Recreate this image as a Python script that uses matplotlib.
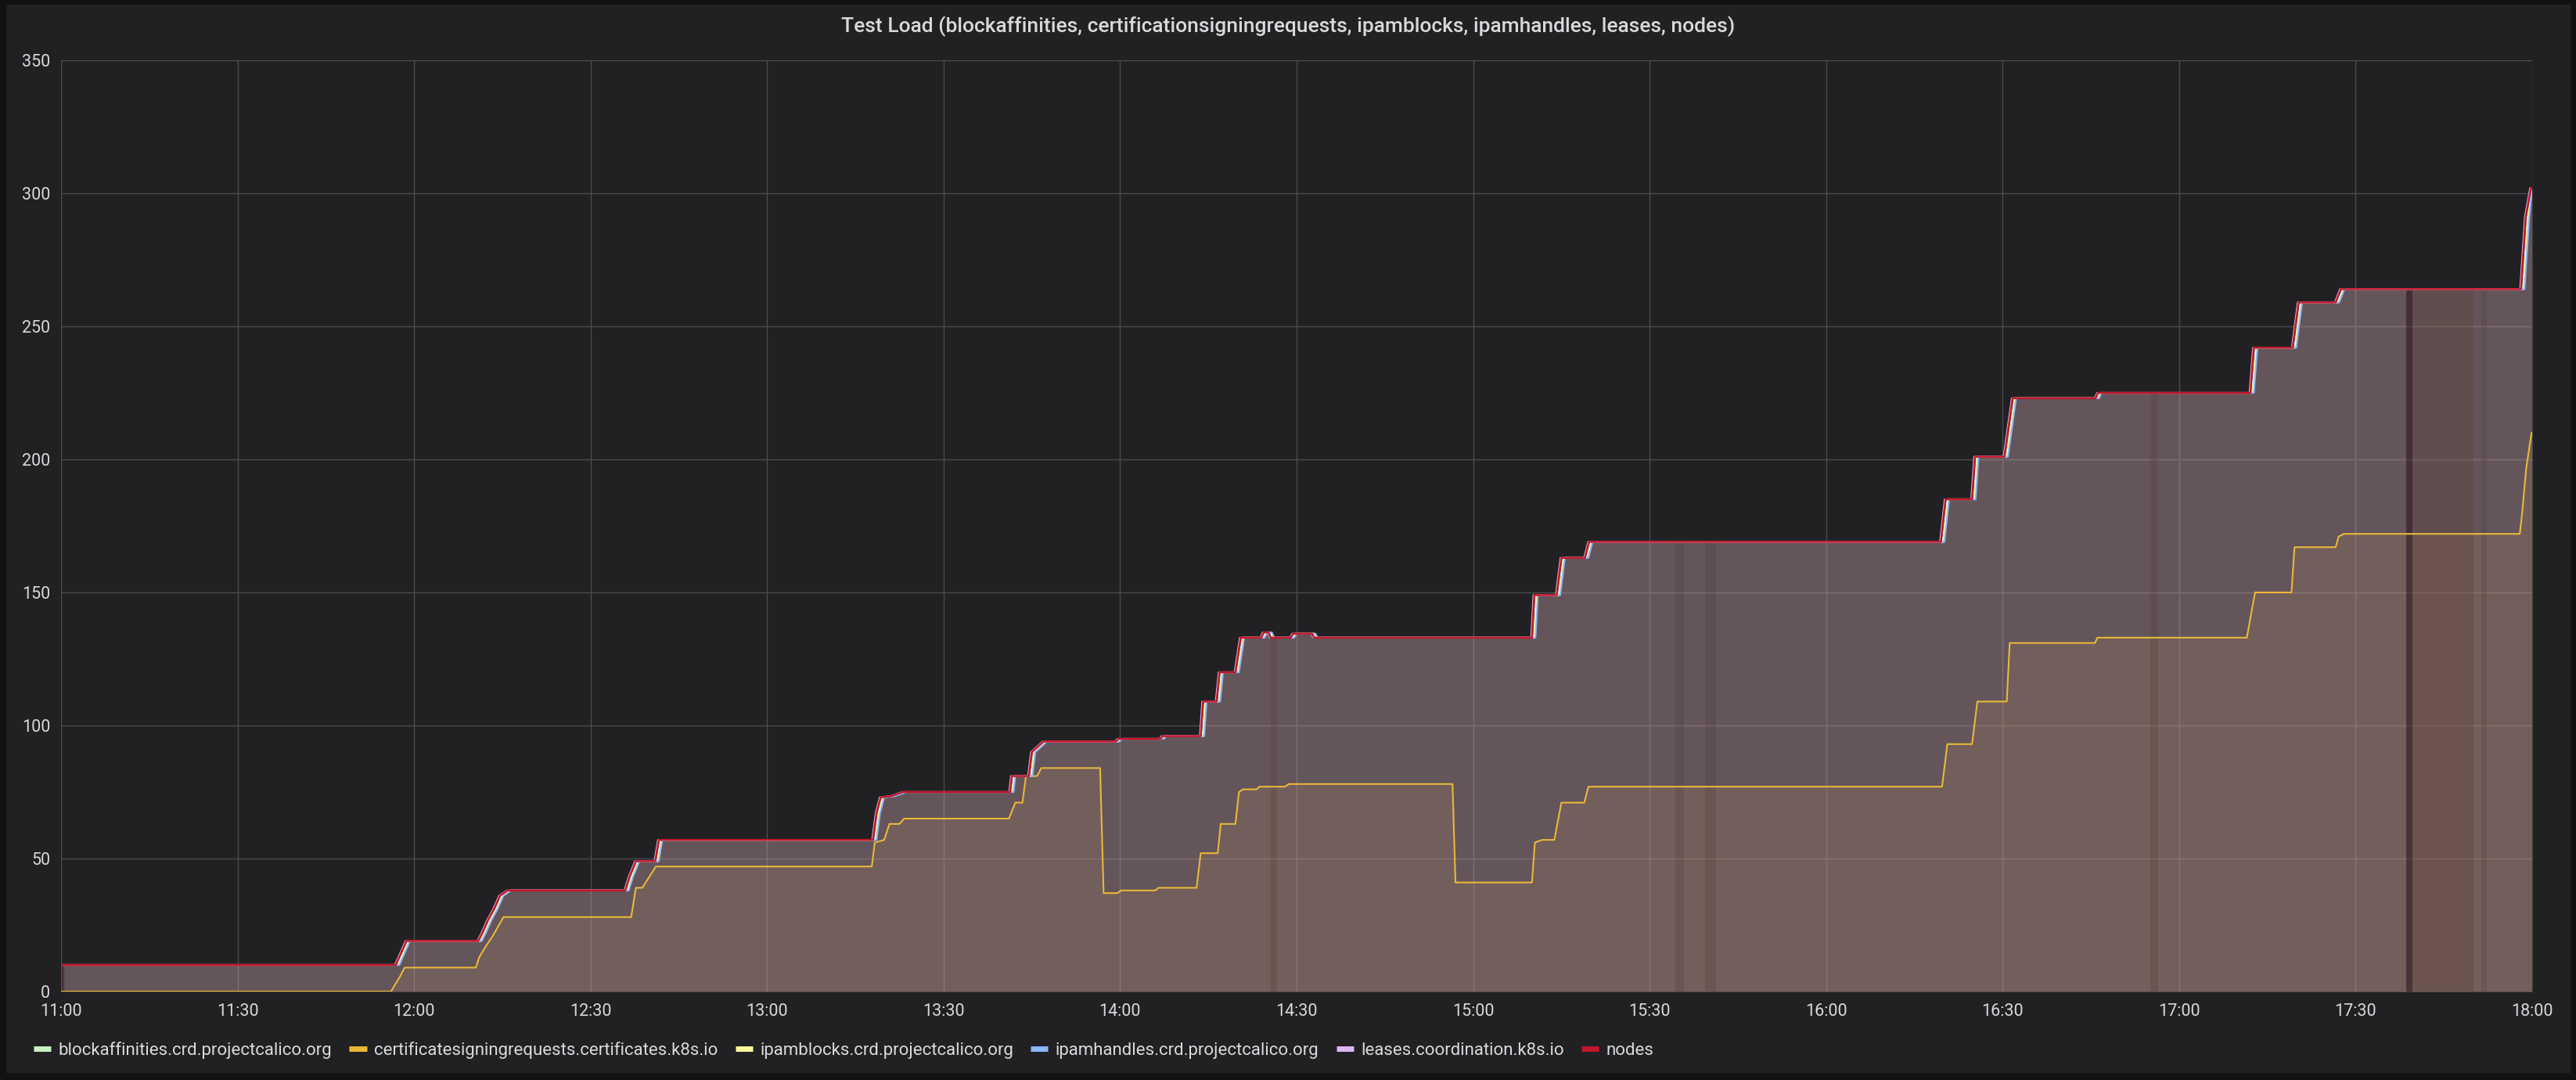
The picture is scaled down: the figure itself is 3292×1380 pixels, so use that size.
import numpy as np
import matplotlib.pyplot as plt
import matplotlib.dates as mdates
from matplotlib.lines import Line2D
from matplotlib.patches import Rectangle

plt.rcParams['font.family'] = ['Roboto', 'DejaVu Sans']

# minutes after 11:00 -> object count
top_min = [0, 56.9, 57.7, 58.7, 70.9, 71.6, 72.6, 73.6, 74.6, 75.9,
           95.9, 96.6, 97.7, 101.0, 101.6,
           138.0, 138.6, 139.3, 141.2, 143.1,
           161.3, 161.6, 164.5, 165.0, 167.0,
           179.3, 179.7, 186.9, 187.2, 193.7, 194.1, 196.4, 196.9, 199.6, 200.5,
           204.0, 204.4, 205.2, 205.6, 209.0, 209.4, 212.6, 213.0,
           250.0, 250.4, 254.2, 255.0, 259.0, 259.7,
           319.5, 320.3, 324.8, 325.3, 330.3, 331.7, 345.8, 346.2,
           372.1, 372.7, 379.3, 380.3, 386.6, 387.5, 418.1, 418.9, 419.8, 420.0]
top_val = [10, 10, 14, 19, 19, 22, 27, 31, 36, 38,
           38, 43, 49, 49, 57,
           57, 67, 73, 73.5, 75,
           75, 81, 81, 90, 94,
           94, 95, 95, 96, 96, 109, 109, 120, 120, 133,
           133, 135, 135, 133, 133, 134.5, 134.5, 133,
           133, 149, 149, 163, 163, 169,
           169, 185, 185, 201, 201, 223, 223, 225,
           225, 242, 242, 259, 259, 264, 264, 291, 302, 302]

csr_min = [0, 56.1, 56.6, 57.7, 58.4, 70.5, 71.1, 72.2, 73.4, 75.2,
           96.9, 97.7, 98.8, 101.1,
           137.8, 138.3, 139.9, 140.8, 142.5, 143.3,
           161.1, 162.2, 163.4, 164.0, 165.9, 166.6,
           176.6, 177.2, 179.5, 180.2, 186.0, 186.5,
           193.0, 193.7, 196.6, 197.1, 199.6, 200.2, 200.9, 203.2, 203.7, 208.0, 208.7,
           236.5, 237.0, 250.0, 250.5, 251.7, 253.8, 255.0, 258.9, 259.6,
           319.7, 320.6, 324.8, 325.7, 330.7, 331.2, 345.7, 346.1,
           371.5, 372.9, 379.1, 379.6, 386.6, 387.1, 388.0, 417.9, 418.3, 419.0, 419.9, 420.0]
csr_val = [0, 0, 2, 6, 9, 9, 13, 17, 21, 28,
           28, 39, 39, 47,
           47, 56, 57, 63, 63, 65,
           65, 71, 71, 81, 81, 84,
           84, 37, 37, 38, 38, 39,
           39, 52, 52, 63, 63, 75, 76, 76, 77, 77, 78,
           78, 41, 41, 56, 57, 57, 71, 71, 77,
           77, 93, 93, 109, 109, 131, 131, 133,
           133, 150, 150, 167, 167, 171, 172, 172, 180, 197, 210, 210]

names = ['blockaffinities.crd.projectcalico.org',
         'certificatesigningrequests.certificates.k8s.io',
         'ipamblocks.crd.projectcalico.org',
         'ipamhandles.crd.projectcalico.org',
         'leases.coordination.k8s.io',
         'nodes']
colors = ['#C8F2C2', '#EAB839', '#FFF899', '#8AB8FF', '#DEB6F2', '#C4162A']
# the five calico/lease/node series follow the same steps, a little behind nodes (minutes)
lag = [0.3, 0.0, 0.45, 0.6, -0.15, 0.0]

# darker strips inside the filled area (minutes after 11:00)
band_start = [205.5, 274.4, 279.4, 355.1, 398.6, 399.6, 411.3]
band_end = [206.6, 275.8, 281.3, 356.4, 399.6, 410.0, 412.3]
band_color = ['#41291a', '#41291a', '#41291a', '#41291a', '#250a16', '#502f1a', '#41291a']
band_alpha = [0.15, 0.15, 0.15, 0.15, 0.5, 0.2, 0.15]

t0 = np.datetime64('2021-01-01T11:00:00')


def to_time(mins):
    return t0 + np.round(np.asarray(mins) * 60).astype('timedelta64[s]')


W, H = 3292, 1380
fig = plt.figure(figsize=(W / 100, H / 100), dpi=100, facecolor='#111113')
fig.patches.append(Rectangle((8 / W, 1 - 1370 / H), (3284 - 8) / W, (1370 - 6) / H,
                             transform=fig.transFigure, color='#212124', zorder=-5))
ax = fig.add_axes([78 / W, 1 - 1267 / H, (3236 - 78) / W, (1267 - 77) / H])
ax.set_facecolor('none')

for i, (name, col) in enumerate(zip(names, colors)):
    if i == 1:
        x, y = to_time(csr_min), np.array(csr_val, float)
    else:
        m = np.clip(np.array(top_min) + lag[i], 0, 420)
        x, y = to_time(m), np.array(top_val, float)
    ax.fill_between(x, 0, y, color=col, alpha=0.1, lw=0, zorder=2)
    ax.plot(x, y, color=col, lw=1.5 if i < 5 else 1.8, zorder=3 + i, label=name)

for s, e, c, a in zip(band_start, band_end, band_color, band_alpha):
    ys = np.interp([s, e], top_min, top_val)
    ax.fill_between(to_time([s, e]), 0, ys, color=c, alpha=a, lw=0, zorder=2.5)

ax.set_xlim(to_time([0])[0], to_time([420])[0])
ax.set_ylim(0, 350)
ax.set_yticks(range(0, 351, 50))
ax.xaxis.set_major_locator(mdates.MinuteLocator(byminute=[0, 30]))
ax.xaxis.set_major_formatter(mdates.DateFormatter('%H:%M'))
ax.grid(True, color='#4b4b4e', lw=1.0, zorder=0)
ax.set_axisbelow(True)
for sp in ax.spines.values():
    sp.set_visible(False)
ax.tick_params(axis='both', length=0, colors='#d8d9da', labelsize=15.5)
ax.tick_params(axis='y', pad=10)
ax.tick_params(axis='x', pad=11)

fig.text(0.5, 1 - 34 / H, 'Test Load (blockaffinities, certificationsigningrequests, '
         'ipamblocks, ipamhandles, leases, nodes)',
         ha='center', va='center', color='#d8d9da', fontsize=19.0, fontweight='medium')

handles = [Line2D([], [], color=c, lw=5, solid_capstyle='butt') for c in colors]
fig.legend(handles, names, loc='center left', bbox_to_anchor=(43 / W, 1 - 1342 / H),
           ncol=6, frameon=False, fontsize=16.0, labelcolor='#d8d9da',
           handlelength=1.0, handletextpad=0.42, columnspacing=1.0,
           borderpad=0, borderaxespad=0)

fig.savefig('out.png', dpi=100, facecolor=fig.get_facecolor())
